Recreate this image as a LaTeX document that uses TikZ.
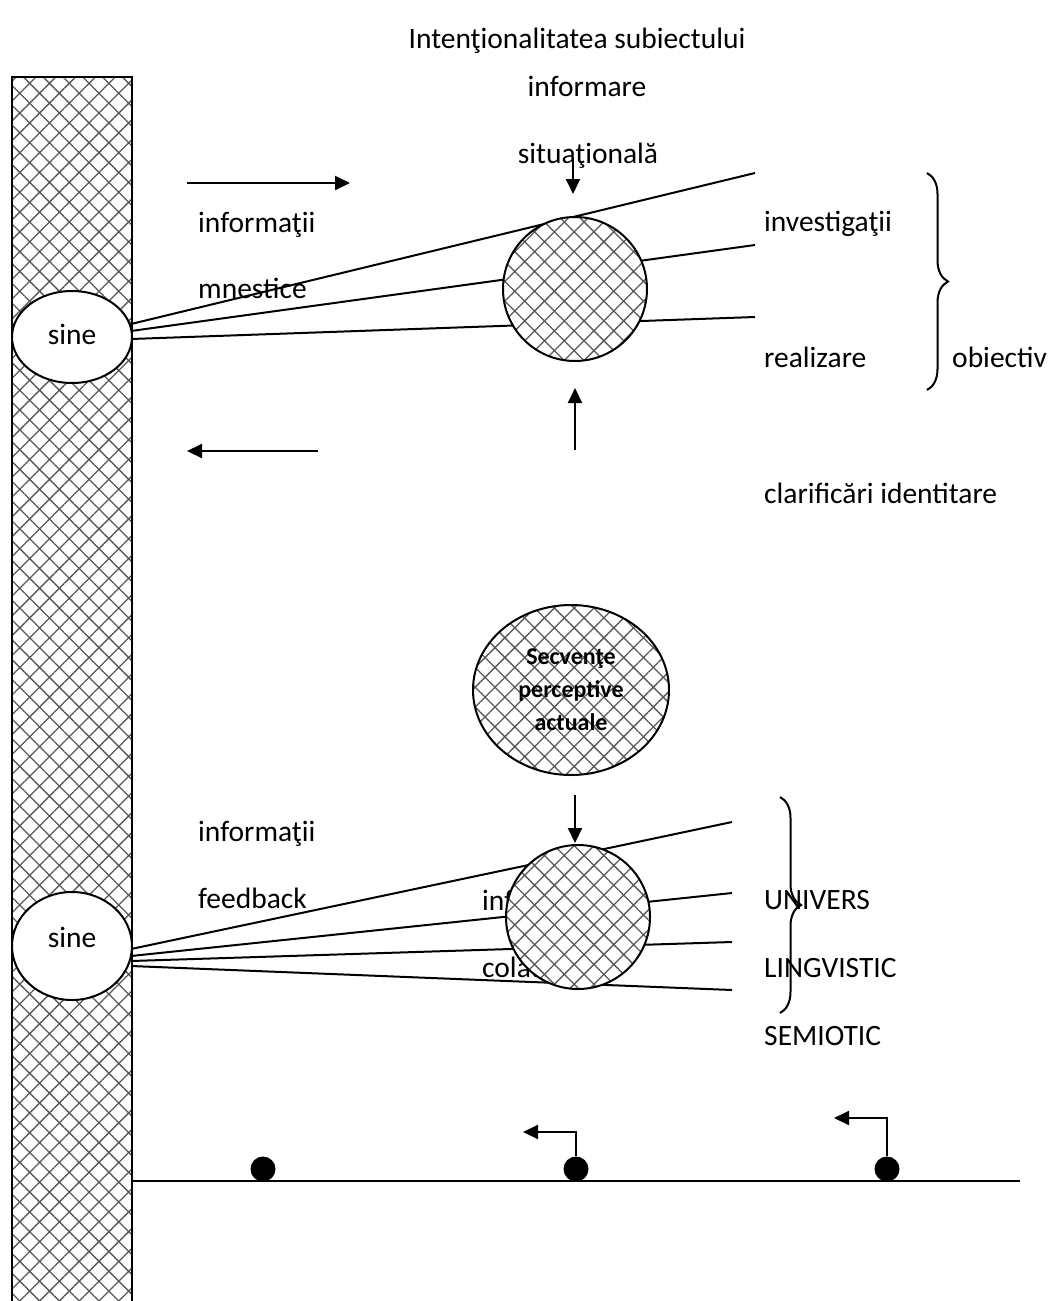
\documentclass[tikz,border=0pt]{standalone}
\usepackage{fontspec}
\setmainfont{Carlito}
\usetikzlibrary{patterns.meta,arrows.meta,shapes.geometric,decorations.pathreplacing,calc}
\begin{document}
\begin{tikzpicture}[x=1pt,y=-1pt,
  every node/.style={font=\fontsize{29.5}{34}\selectfont, inner sep=0pt},
  hatch/.style={preaction={fill=white}, pattern={Hatch[angle=45,distance=14pt,line width=1.3pt]}, pattern color=black!65},
  conn/.style={line width=2pt},
  arr/.style={line width=2pt, -{Triangle[length=15pt,width=14pt]}},
  lbl/.style={anchor=base west},
  ctr/.style={anchor=base},
  brc/.style={line width=2pt, decorate, decoration={brace, amplitude=21pt}},
  dot/.style={circle, fill=black, minimum size=25pt},
]
\useasboundingbox (0,0) rectangle (1055,1301);
% bar
\fill[hatch] (12,77) rectangle (132,1310);
\draw[line width=2.5pt] (12,1310) -- (12,77) -- (132,77) -- (132,1310);
% texts top
\node[ctr] (title) at (577,48) {Intenţionalitatea subiectului};
\node[ctr] (inform) at (587,96) {informare};
\node[ctr] (situ) at (588,163) {situaţională};
\node[lbl] (infm) at (198,232) {informaţii};
\node[lbl] (mnest) at (198,298) {mnestice};
\node[lbl] (invest) at (764,231) {investigaţii};
\node[lbl] (realiz) at (764,367) {realizare};
\node[lbl] (obiect) at (952,367) {obiectiv};
\node[lbl] (clarif) at (764,503) {clarificări identitare};
% sine top
\node[ellipse, draw, fill=white, line width=2pt, minimum width=120pt, minimum height=92pt] (s1) at (72,337) {};
\node[ctr] (s1t) at (72,344) {sine};
\coordinate (a1) at (131,324);
\coordinate (a2) at (131,331);
\coordinate (a3) at (131,339);
\coordinate (e1) at (755,173);
\coordinate (e2) at (755,245);
\coordinate (e3) at (755,317);
\draw[conn] (a1) -- (e1);
\draw[conn] (a2) -- (e2);
\draw[conn] (a3) -- (e3);
\node[circle, hatch, draw, line width=2pt, minimum size=144pt] (c1) at (575,289) {};
\coordinate (sitA) at (573,158);
\coordinate (sitB) at (573,194);
\draw[arr] (sitA) -- (sitB);
\coordinate (upA) at (575,450);
\coordinate (upB) at (575,388);
\draw[arr] (upA) -- (upB);
\coordinate (ra1) at (187,183);
\coordinate (ra2) at (350,183);
\draw[arr] (ra1) -- (ra2);
\coordinate (la1) at (318,451);
\coordinate (la2) at (187,451);
\draw[arr] (la1) -- (la2);
\coordinate (b1a) at (927,173);
\coordinate (b1b) at (927,390);
\draw[brc] (b1a) -- (b1b);
% middle
\node[ellipse, hatch, draw, line width=2pt, minimum width=196pt, minimum height=170pt, align=center, font=\bfseries\fontsize{24}{33}\selectfont] (mid) at (571,690) {Secvenţe\\perceptive\\actuale};
\coordinate (dnA) at (575,795);
\coordinate (dnB) at (575,843);
\draw[arr] (dnA) -- (dnB);
% bottom texts
\node[lbl] (infb) at (198,841) {informaţii};
\node[lbl] (feedb) at (198,908) {feedback};
\node[lbl] (infc) at (482,910) {informaţii};
\node[lbl] (colat) at (482,977) {colaterale};
\node[lbl] (univ) at (764,909) {UNIVERS};
\node[lbl] (ling) at (764,977) {LINGVISTIC};
\node[lbl] (semio) at (764,1045) {SEMIOTIC};
% sine bottom
\node[ellipse, draw, fill=white, line width=2pt, minimum width=120pt, minimum height=108pt] (s2) at (72,946) {};
\node[ctr] (s2t) at (72,947) {sine};
\coordinate (g1) at (131,949);
\coordinate (g2) at (131,956);
\coordinate (g3) at (131,961);
\coordinate (g4) at (131,966);
\coordinate (f1) at (732,822);
\coordinate (f2) at (732,893);
\coordinate (f3) at (732,942);
\coordinate (f4) at (732,990);
\draw[conn] (g1) -- (f1);
\draw[conn] (g2) -- (f2);
\draw[conn] (g3) -- (f3);
\draw[conn] (g4) -- (f4);
\node[circle, hatch, draw, line width=2pt, minimum size=144pt] (c2) at (578,917) {};
\coordinate (b2a) at (780,797);
\coordinate (b2b) at (780,1013);
\draw[brc] (b2a) -- (b2b);
% bottom line
\coordinate (ln1) at (132,1181);
\coordinate (ln2) at (1020,1181);
\draw[conn] (ln1) -- (ln2);
\node[dot] (d1) at (263,1169) {};
\node[dot] (d2) at (576,1169) {};
\node[dot] (d3) at (887,1169) {};
\coordinate (h2) at (523,1132);
\coordinate (h3) at (834,1118);
\draw[arr] (d2.north) |- (h2);
\draw[arr] (d3.north) |- (h3);
\end{tikzpicture}
\end{document}
